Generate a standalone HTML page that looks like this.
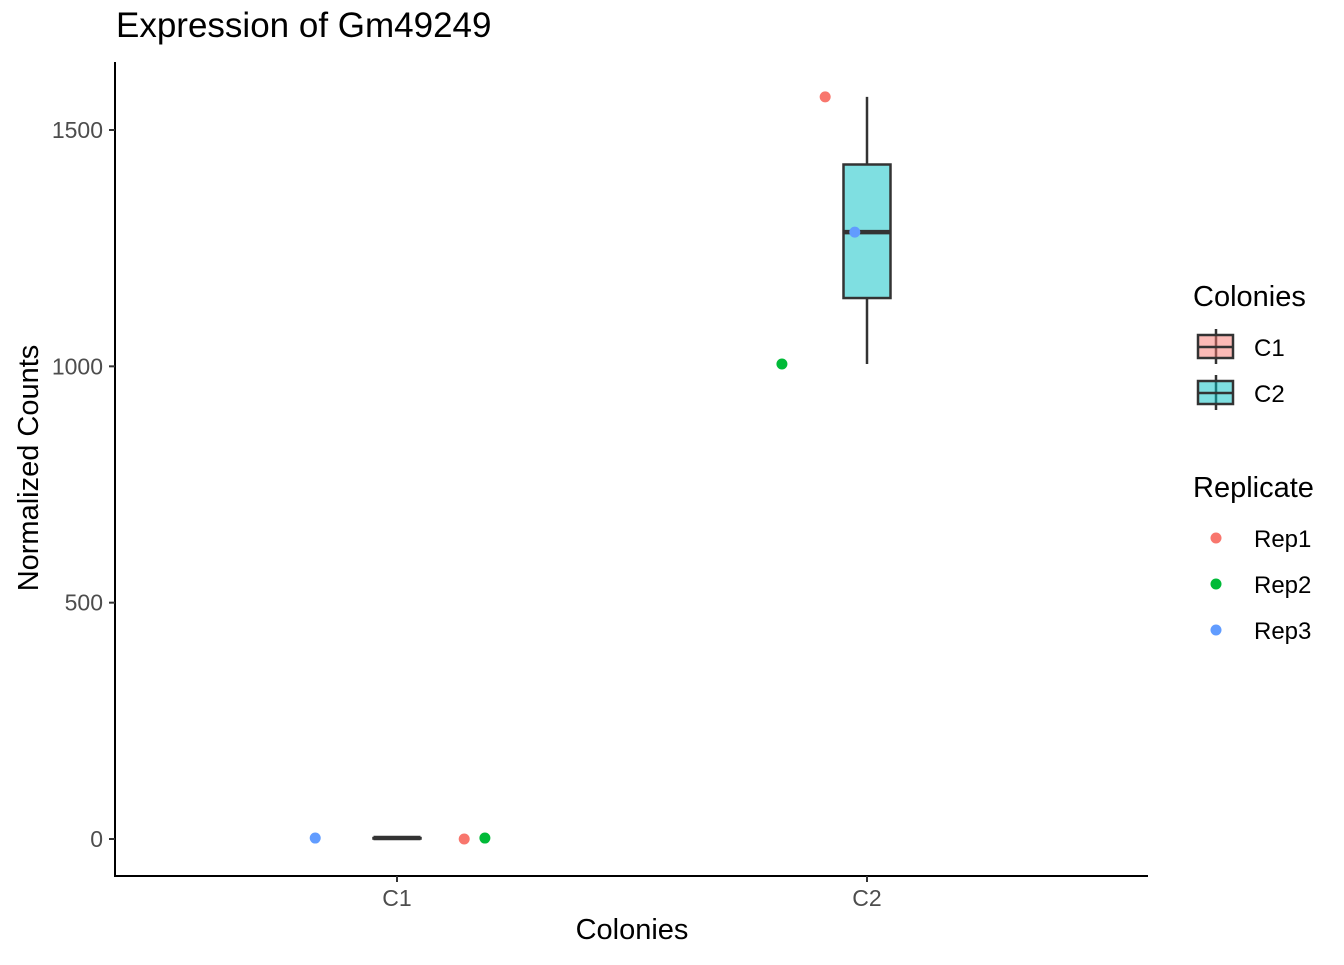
<!DOCTYPE html>
<html><head><meta charset="utf-8">
<style>
body{margin:0;background:#fff;}
svg text{font-family:"Liberation Sans",sans-serif;}
</style></head>
<body>
<svg id="chart" width="1344" height="960" xmlns="http://www.w3.org/2000/svg">
<text x="116" y="37" font-size="35" fill="#000">Expression of Gm49249</text>
<g id="plot"></g>
<text x="632" y="939" font-size="29" text-anchor="middle">Colonies</text>
<text transform="translate(38,468) rotate(-90)" font-size="29" text-anchor="middle">Normalized Counts</text>
<g>
<text x="1193" y="306" font-size="29">Colonies</text>
<g>
<line x1="1216" y1="329" x2="1216" y2="364" stroke="#333" stroke-width="2.5"/>
<rect x="1198" y="335" width="35" height="23" fill="#F8766D" fill-opacity="0.5" stroke="#333" stroke-width="2.5"/>
<line x1="1198" y1="347" x2="1233" y2="347" stroke="#333" stroke-width="2.5"/>
<text x="1254" y="356" font-size="24">C1</text></g>
<g>
<line x1="1216" y1="375" x2="1216" y2="410" stroke="#333" stroke-width="2.5"/>
<rect x="1198" y="381" width="35" height="23" fill="#00BFC4" fill-opacity="0.5" stroke="#333" stroke-width="2.5"/>
<line x1="1198" y1="393" x2="1233" y2="393" stroke="#333" stroke-width="2.5"/>
<text x="1254" y="402" font-size="24">C2</text></g>
</g>
<g>
<text x="1193" y="497" font-size="29">Replicate</text>
<g><circle cx="1216" cy="538" r="5.5" fill="#F8766D"/><text x="1254" y="547" font-size="24">Rep1</text></g>
<g><circle cx="1216" cy="584" r="5.5" fill="#00BA38"/><text x="1254" y="593" font-size="24">Rep2</text></g>
<g><circle cx="1216" cy="630" r="5.5" fill="#619CFF"/><text x="1254" y="639" font-size="24">Rep3</text></g>
</g>
</svg>
<script>
const categories = ["C1","C2"];
const replicates = ["Rep1","Rep2","Rep3"];
const valuesC1 = [0, 2, 2];
const valuesC2 = [1570, 1005, 1284];
const jitterC1 = [0.143, 0.187, -0.174];
const jitterC2 = [-0.089, -0.181, -0.026];
const yTicks = [0, 500, 1000, 1500];

const repColors = ["#F8766D","#00BA38","#619CFF"];
const boxFill = ["#F8766D","#00BFC4"];
const NS = "http://www.w3.org/2000/svg";
const g = document.getElementById("plot");
const yScale = v => 839 - v * (709/1500);
const xScale = i => 397 + i * 470;
function mk(tag, attrs, parent){ const e=document.createElementNS(NS,tag); for(const k in attrs) e.setAttribute(k,attrs[k]); (parent||g).appendChild(e); return e; }
function q(arr,p){ const s=[...arr].sort((a,b)=>a-b); const h=(s.length-1)*p; const lo=Math.floor(h); return s[lo]+(h-lo)*((s[Math.min(lo+1,s.length-1)])-s[lo]); }

const ax = mk("line",{x1:115,y1:62,x2:115,y2:877,stroke:"#000","stroke-width":2});


const bx = mk("line",{x1:114,y1:876,x2:1148,y2:876,stroke:"#000","stroke-width":2});


yTicks.forEach(t=>{
  const y=yScale(t);
  mk("line",{x1:109,y1:y,x2:115,y2:y,stroke:"#333","stroke-width":2});
  const tx=mk("text",{x:103,y:y+8,"font-size":23,"text-anchor":"end",fill:"#4d4d4d"});
  tx.textContent=t;
  
  
});
categories.forEach((c,i)=>{
  const x=xScale(i);
  mk("line",{x1:x,y1:876,x2:x,y2:882,stroke:"#333","stroke-width":2});
  const tx=mk("text",{x:x,y:906,"font-size":23,"text-anchor":"middle",fill:"#4d4d4d"});
  tx.textContent=c;
  
  
});
const allVals=[valuesC1,valuesC2], allJit=[jitterC1,jitterC2];
allVals.forEach((vals,i)=>{
  const x=xScale(i), w=47;
  const q1=q(vals,0.25), md=q(vals,0.5), q3=q(vals,0.75);
  const iqr=q3-q1;
  const lo=Math.min(...vals.filter(v=>v>=q1-1.5*iqr)), hi=Math.max(...vals.filter(v=>v<=q3+1.5*iqr));
  const bg=mk("g",{});
  
  
  mk("line",{x1:x,y1:yScale(hi),x2:x,y2:yScale(q3),stroke:"#333","stroke-width":2.5},bg);
  mk("line",{x1:x,y1:yScale(q1),x2:x,y2:yScale(lo),stroke:"#333","stroke-width":2.5},bg);
  mk("rect",{x:x-w/2,y:yScale(q3),width:w,height:Math.max(0,yScale(q1)-yScale(q3)),fill:boxFill[i],"fill-opacity":0.5,stroke:"#333","stroke-width":2.5},bg);
  mk("line",{x1:x-w/2,y1:yScale(md),x2:x+w/2,y2:yScale(md),stroke:"#333","stroke-width":4.5},bg);
});
allVals.forEach((vals,i)=>{
  vals.forEach((v,j)=>{
    const c=mk("circle",{cx:xScale(i+allJit[i][j]),cy:yScale(v),r:5.5,fill:repColors[j]});
    
    
  });
});
</script>
</body></html>
